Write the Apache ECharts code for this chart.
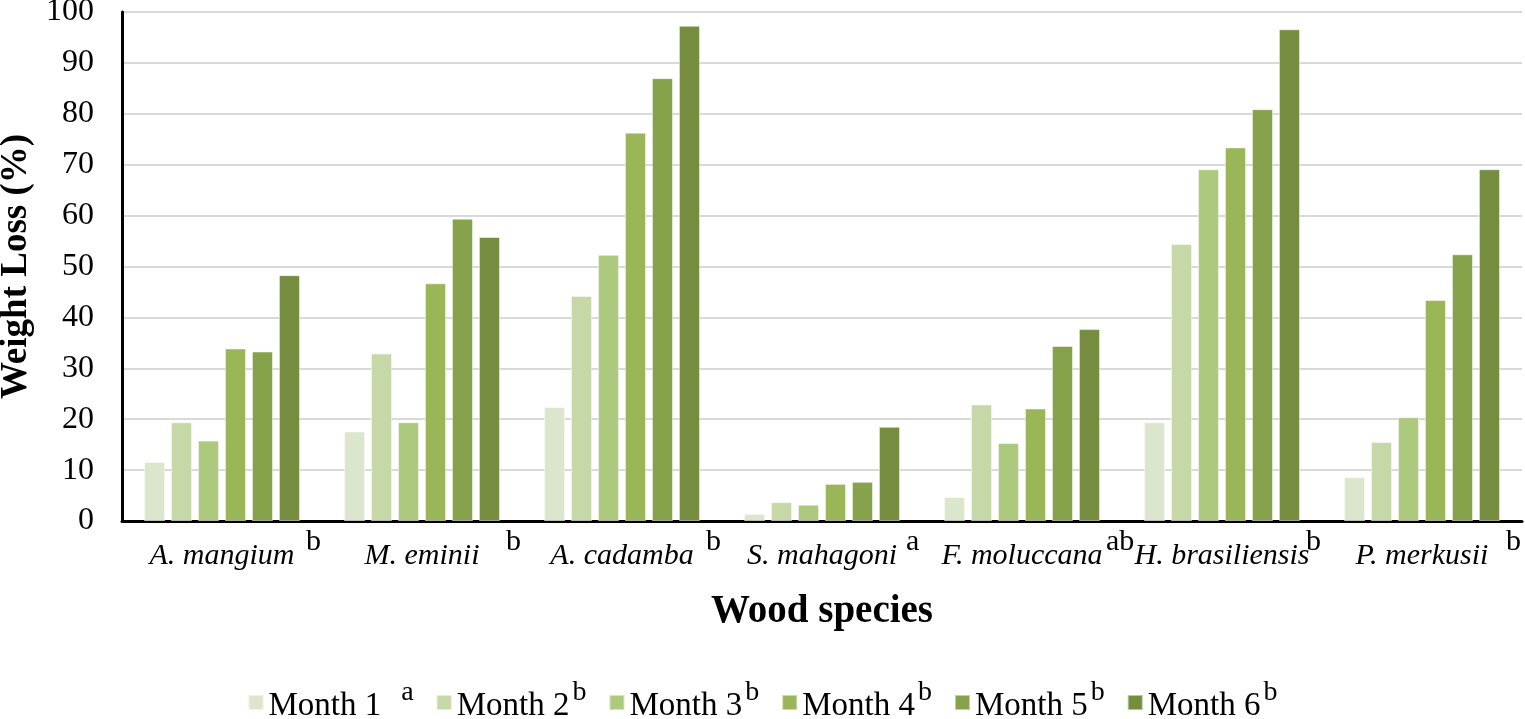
<!DOCTYPE html>
<html>
<head>
<meta charset="utf-8">
<script src="https://cdn.jsdelivr.net/npm/echarts@6/dist/echarts.min.js"></script>
<style>html,body{margin:0;padding:0;background:#fff;}#c{width:1525px;height:719px;}</style>
</head>
<body>
<div id="c"></div>
<script>
const species = ['A. mangium','M. eminii','A. cadamba','S. mahagoni','F. moluccana','H. brasiliensis','P. merkusii'];
const speciesLetters = ['b','b','b','a','ab','b','b'];
const months = ['Month 1','Month 2','Month 3','Month 4','Month 5','Month 6'];
const monthLetters = ['a','b','b','b','b','b'];
const month1 = [11.6, 17.6, 22.4, 1.4, 4.7, 19.4, 8.6];
const month2 = [19.4, 32.9, 44.2, 3.7, 22.9, 54.4, 15.5];
const month3 = [15.8, 19.4, 52.3, 3.2, 15.3, 69.1, 20.4];
const month4 = [33.9, 46.7, 76.3, 7.3, 22.1, 73.4, 43.4];
const month5 = [33.3, 59.4, 87.0, 7.7, 34.4, 80.9, 52.4];
const month6 = [48.3, 55.8, 97.3, 18.5, 37.7, 96.6, 69.1];
const yTicks = [0,10,20,30,40,50,60,70,80,90,100];

const colors = ['#dce6cc','#c6d8a8','#adc97e','#9ab658','#86a24b','#768d40'];
const seriesData = [month1, month2, month3, month4, month5, month6];
const serif = '"Liberation Serif","Times New Roman",serif';

const chart = echarts.init(document.getElementById('c'));
chart.setOption({
  animation: false,
  color: colors,
  grid: {left: 122, right: 3, top: 12, bottom: 198, outerBoundsMode: 'none', containLabel: false},
  legend: {
    data: months,
    bottom: -9,
    left: 'center',
    itemWidth: 15,
    itemHeight: 15,
    itemGap: 22,
    icon: 'rect',
    formatter: function (name) {
      const i = months.indexOf(name);
      return '{t|' + name + '}{' + (i === 0 ? 'f' : 's') + '|' + monthLetters[i] + '}';
    },
    textStyle: {
      fontFamily: serif,
      color: '#000',
      rich: {
        t: {fontSize: 33, fontFamily: serif, color: '#000', padding: [8,0,0,0]},
        s: {fontSize: 28, fontFamily: serif, color: '#000', padding: [0,0,20,3]},
        f: {fontSize: 28, fontFamily: serif, color: '#000', padding: [0,0,20,20]}
      }
    }
  },
  xAxis: [{
    type: 'category',
    data: species,
    axisLine: {lineStyle: {color: '#000', width: 3}},
    axisTick: {show: false},
    axisLabel: {interval: 0, hideOverlap: false, fontFamily: serif, fontStyle: 'italic', fontSize: 30, color: '#000', margin: 20},
    name: 'Wood species',
    nameLocation: 'middle',
    nameGap: 71,
    nameTextStyle: {fontFamily: serif, fontWeight: 'bold', fontSize: 39, color: '#000'}
  }, {
    type: 'category',
    data: speciesLetters,
    position: 'bottom',
    axisLine: {show: false},
    axisTick: {show: false},
    axisLabel: {interval: 0, hideOverlap: false, align: 'left', fontFamily: serif, fontSize: 30, color: '#000', margin: 6, padding: [0,0,0,84]}
  }],
  yAxis: {
    type: 'value',
    min: 0,
    max: 100,
    interval: 10,
    axisLine: {show: true, lineStyle: {color: '#000', width: 3}},
    axisTick: {show: false},
    splitLine: {lineStyle: {color: '#d9d9d9', width: 2}},
    axisLabel: {fontFamily: serif, fontSize: 32, color: '#000', margin: 28,
      formatter: function (v) { return yTicks.indexOf(v) >= 0 ? String(v) : ''; }},
    name: 'Weight Loss (%)',
    nameLocation: 'middle',
    nameGap: 86,
    nameTextStyle: {fontFamily: serif, fontWeight: 'bold', fontSize: 37, color: '#000'}
  },
  series: months.map(function (m, i) {
    return {
      name: m,
      type: 'bar',
      xAxisIndex: 0,
      data: seriesData[i],
      barGap: '28%',
      barCategoryGap: '22%',
      itemStyle: {color: colors[i], borderColor: 'rgba(255,255,255,0.5)', borderWidth: 1}
    };
  })
});
</script>
</body>
</html>
